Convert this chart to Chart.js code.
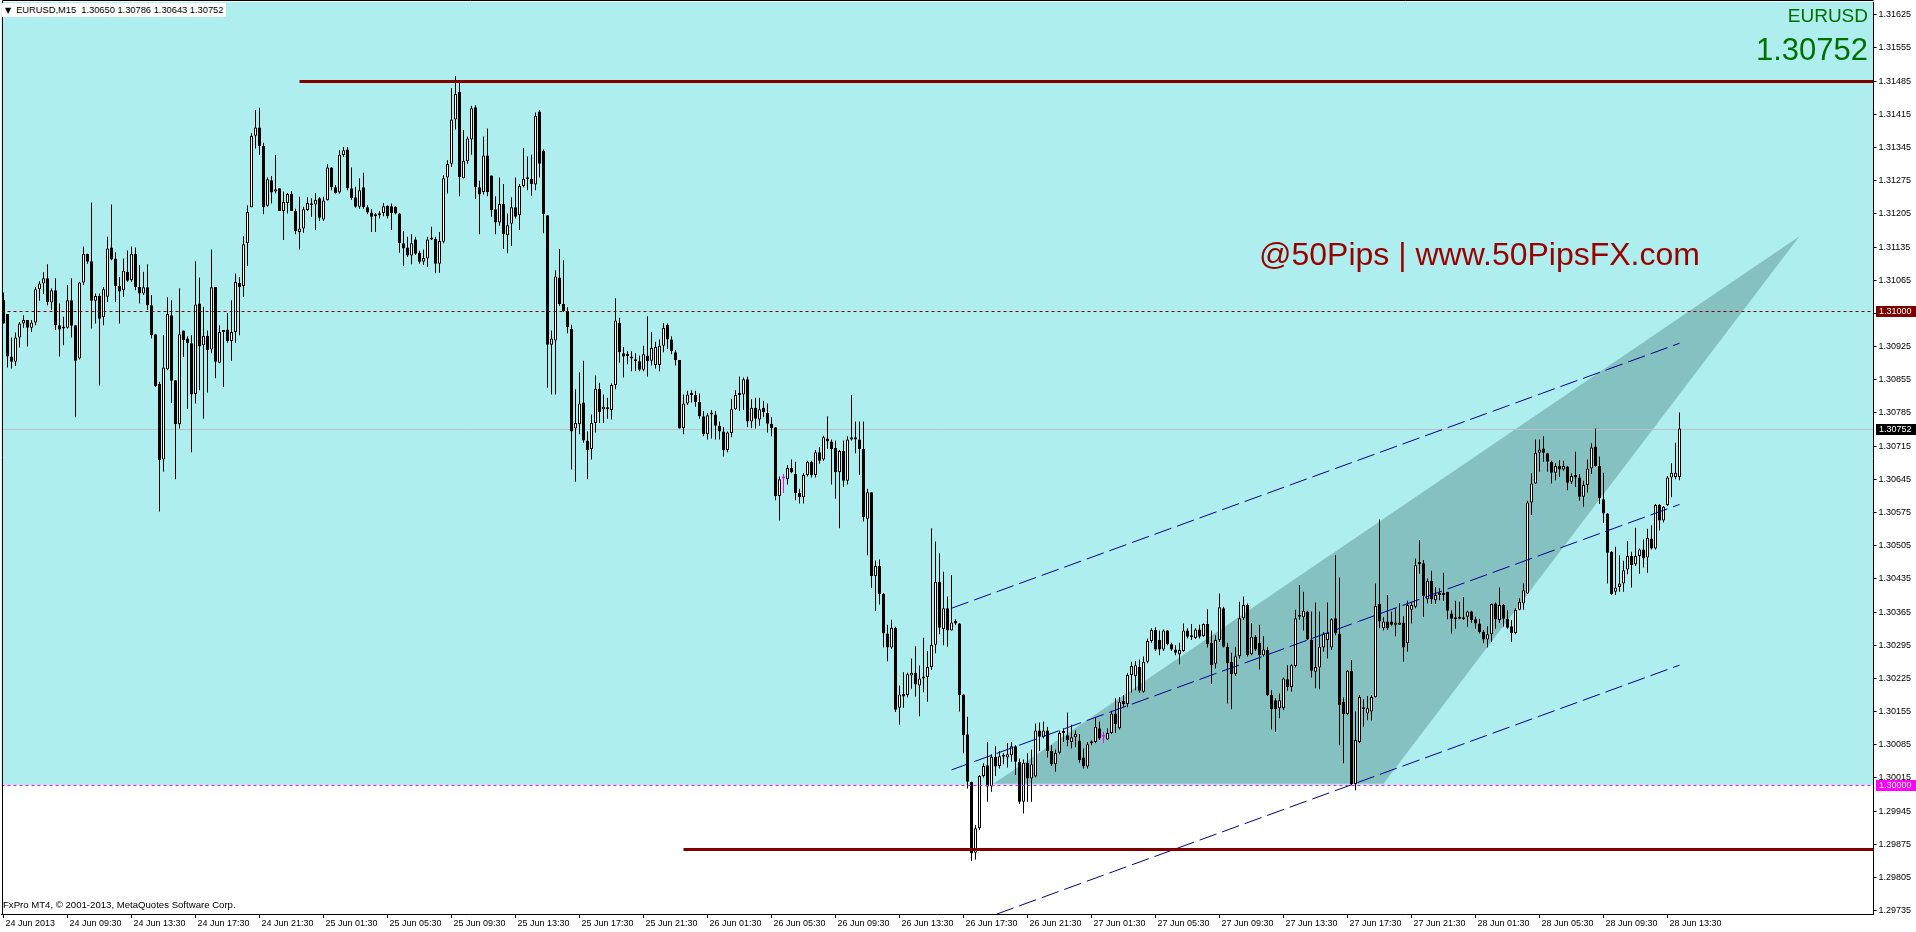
<!DOCTYPE html>
<html>
<head>
<meta charset="utf-8">
<title>EURUSD,M15</title>
<script src="https://cdn.jsdelivr.net/npm/chart.js@4.4.1/dist/chart.umd.min.js"></script>
<style>
  html, body { margin: 0; padding: 0; background: #fff; }
  #wrap { position: relative; width: 1916px; height: 932px; overflow: hidden; }
  #chart { position: absolute; left: 0; top: 0; }
  .txt { position: absolute; white-space: pre; font-family: 'Liberation Sans', Arial, sans-serif; z-index: 2; }
  #header { left: 2px; top: 3px; height: 14px; line-height: 14px; padding: 0 3px 0 3px; background: #fff; font-size: 9.3px; color: #000; }
  #header .arrow { font-family: 'DejaVu Sans', sans-serif; font-size: 8px; margin-right: 5px; }
  #footer { left: 3px; top: 899px; font-size: 9.6px; line-height: 12px; color: #000; }
  #symbol { right: 48px; top: 6px; font-size: 19px; line-height: 19px; color: #007000; }
  #bigPrice { right: 48px; top: 35px; font-size: 31px; line-height: 30px; color: #007000; }
  #brand { left: 1259px; top: 238px; font-size: 32px; line-height: 32px; color: #990000; }
</style>
</head>
<body>
<div id="wrap">
  <canvas id="chart" width="1916" height="932"></canvas>
  <div class="txt" id="header"><span class="arrow">▼</span>EURUSD,M15  1.30650 1.30786 1.30643 1.30752</div>
  <div class="txt" id="symbol">EURUSD</div>
  <div class="txt" id="bigPrice">1.30752</div>
  <div class="txt" id="brand">@50Pips | www.50PipsFX.com</div>
  <div class="txt" id="footer">FxPro MT4, © 2001-2013, MetaQuotes Software Corp.</div>
</div>
<script>
'use strict';

/* #################### candles (M15) #################### */
let opens = [
  1.31024, 1.30994, 1.30904, 1.30893, 1.30944, 1.30974, 1.30981, 1.30965, 1.30976, 1.31046,
  1.31058, 1.31069, 1.31018, 1.31044, 1.30970, 1.30963, 1.30965, 1.31023, 1.30970, 1.30900,
  1.31060, 1.31121, 1.31105, 1.31022, 1.31032, 1.30987, 1.31030, 1.31134, 1.31111, 1.31053,
  1.31044, 1.31083, 1.31065, 1.31121, 1.31051, 1.31037, 1.31050, 1.31012, 1.30951, 1.30846,
  1.30687, 1.30877, 1.30991, 1.30854, 1.30761, 1.30959, 1.30942, 1.30932, 1.30825, 1.31016,
  1.30928, 1.30948, 1.30919, 1.31051, 1.30891, 1.30958, 1.30961, 1.30937, 1.30956, 1.31059,
  1.31053, 1.31143, 1.31219, 1.31370, 1.31387, 1.31348, 1.31222, 1.31276, 1.31252, 1.31259,
  1.31211, 1.31228, 1.31247, 1.31211, 1.31167, 1.31174, 1.31213, 1.31227, 1.31225, 1.31238,
  1.31193, 1.31234, 1.31303, 1.31261, 1.31250, 1.31329, 1.31341, 1.31259, 1.31240, 1.31220,
  1.31261, 1.31219, 1.31208, 1.31202, 1.31202, 1.31207, 1.31222, 1.31221, 1.31220, 1.31206,
  1.31143, 1.31134, 1.31117, 1.31151, 1.31123, 1.31104, 1.31111, 1.31152, 1.31152, 1.31100,
  1.31146, 1.31282, 1.31311, 1.31404, 1.31462, 1.31280, 1.31316, 1.31362, 1.31430, 1.31261,
  1.31251, 1.31328, 1.31286, 1.31215, 1.31187, 1.31226, 1.31160, 1.31184, 1.31219, 1.31202,
  1.31264, 1.31279, 1.31279, 1.31267, 1.31421, 1.31338, 1.31202, 1.30929, 1.30938, 1.31071,
  1.31015, 1.31000, 1.30962, 1.30752, 1.30761, 1.30807, 1.30727, 1.30709, 1.30764, 1.30836,
  1.30793, 1.30793, 1.30791, 1.30844, 1.30975, 1.30911, 1.30906, 1.30904, 1.30897, 1.30894,
  1.30876, 1.30906, 1.30895, 1.30886, 1.30886, 1.30927, 1.30971, 1.30940, 1.30913, 1.30897,
  1.30753, 1.30805, 1.30823, 1.30823, 1.30808, 1.30778, 1.30740, 1.30782, 1.30782, 1.30758,
  1.30746, 1.30707, 1.30743, 1.30793, 1.30823, 1.30824, 1.30856, 1.30767, 1.30796, 1.30771,
  1.30796, 1.30785, 1.30762, 1.30755, 1.30610, 1.30647, 1.30645, 1.30669, 1.30656, 1.30616,
  1.30607, 1.30654, 1.30682, 1.30654, 1.30702, 1.30687, 1.30731, 1.30725, 1.30711, 1.30660,
  1.30705, 1.30642, 1.30729, 1.30734, 1.30729, 1.30709, 1.30562, 1.30618, 1.30441, 1.30462,
  1.30403, 1.30320, 1.30290, 1.30332, 1.30163, 1.30192, 1.30190, 1.30231, 1.30237, 1.30210,
  1.30225, 1.30228, 1.30249, 1.30296, 1.30429, 1.30329, 1.30373, 1.30326, 1.30346, 1.30341,
  1.30191, 1.30107, 1.30007, 1.29857, 1.29909, 1.30019, 1.30042, 1.29997, 1.30060, 1.30040,
  1.30060, 1.30058, 1.30063, 1.30082, 1.30049, 1.29965, 1.30047, 1.30014, 1.30018, 1.30115,
  1.30102, 1.30115, 1.30072, 1.30044, 1.30068, 1.30110, 1.30105, 1.30091, 1.30101, 1.30094,
  1.30058, 1.30039, 1.30091, 1.30091, 1.30120, 1.30102, 1.30096, 1.30110, 1.30151, 1.30120,
  1.30178, 1.30171, 1.30232, 1.30230, 1.30249, 1.30197, 1.30260, 1.30304, 1.30327, 1.30306,
  1.30286, 1.30326, 1.30297, 1.30286, 1.30276, 1.30283, 1.30326, 1.30313, 1.30310, 1.30328,
  1.30314, 1.30340, 1.30300, 1.30256, 1.30306, 1.30373, 1.30292, 1.30260, 1.30234, 1.30272,
  1.30352, 1.30380, 1.30276, 1.30313, 1.30300, 1.30274, 1.30285, 1.30190, 1.30179, 1.30162,
  1.30162, 1.30223, 1.30207, 1.30251, 1.30355, 1.30354, 1.30366, 1.30306, 1.30239, 1.30248,
  1.30290, 1.30306, 1.30290, 1.30352, 1.30320, 1.30176, 1.30150, 1.30241, 1.30002, 1.30091,
  1.30160, 1.30151, 1.30155, 1.30186, 1.30382, 1.30331, 1.30345, 1.30345, 1.30338, 1.30338,
  1.30343, 1.30299, 1.30370, 1.30376, 1.30471, 1.30468, 1.30392, 1.30431, 1.30390, 1.30404,
  1.30403, 1.30408, 1.30362, 1.30354, 1.30351, 1.30350, 1.30355, 1.30366, 1.30350, 1.30341,
  1.30323, 1.30307, 1.30318, 1.30383, 1.30348, 1.30380, 1.30351, 1.30335, 1.30321, 1.30370,
  1.30383, 1.30404, 1.30596, 1.30636, 1.30701, 1.30710, 1.30700, 1.30682, 1.30659, 1.30673,
  1.30666, 1.30672, 1.30640, 1.30654, 1.30649, 1.30608, 1.30633, 1.30668, 1.30714, 1.30673,
  1.30603, 1.30573, 1.30492, 1.30408, 1.30418, 1.30425, 1.30455, 1.30483, 1.30466, 1.30483,
  1.30497, 1.30480, 1.30520, 1.30499, 1.30591, 1.30558, 1.30591, 1.30649, 1.30650, 1.30650
];
let highs = [
  1.31039, 1.30994, 1.30944, 1.30955, 1.30977, 1.30991, 1.30981, 1.30981, 1.31051, 1.31063,
  1.31082, 1.31099, 1.31048, 1.31069, 1.31016, 1.30988, 1.31055, 1.31069, 1.30970, 1.31062,
  1.31136, 1.31121, 1.31229, 1.31037, 1.31037, 1.31051, 1.31157, 1.31225, 1.31124, 1.31072,
  1.31111, 1.31128, 1.31136, 1.31134, 1.31097, 1.31083, 1.31099, 1.31034, 1.30951, 1.30851,
  1.30949, 1.31029, 1.31023, 1.30854, 1.31048, 1.30959, 1.30947, 1.30949, 1.31105, 1.31071,
  1.31009, 1.30959, 1.31130, 1.31051, 1.30970, 1.30959, 1.30996, 1.31023, 1.31079, 1.31072,
  1.31158, 1.31223, 1.31375, 1.31424, 1.31429, 1.31355, 1.31282, 1.31285, 1.31329, 1.31259,
  1.31252, 1.31249, 1.31253, 1.31216, 1.31241, 1.31220, 1.31240, 1.31238, 1.31249, 1.31240,
  1.31241, 1.31310, 1.31304, 1.31266, 1.31339, 1.31346, 1.31346, 1.31303, 1.31262, 1.31280,
  1.31292, 1.31223, 1.31215, 1.31207, 1.31211, 1.31228, 1.31223, 1.31227, 1.31221, 1.31207,
  1.31169, 1.31157, 1.31162, 1.31157, 1.31127, 1.31130, 1.31157, 1.31178, 1.31157, 1.31167,
  1.31287, 1.31318, 1.31470, 1.31496, 1.31485, 1.31382, 1.31368, 1.31433, 1.31434, 1.31275,
  1.31368, 1.31385, 1.31286, 1.31242, 1.31282, 1.31268, 1.31206, 1.31240, 1.31282, 1.31268,
  1.31344, 1.31326, 1.31330, 1.31419, 1.31424, 1.31341, 1.31202, 1.30959, 1.31086, 1.31131,
  1.31107, 1.31008, 1.30971, 1.30835, 1.30871, 1.30895, 1.30746, 1.30782, 1.30864, 1.30849,
  1.30824, 1.30817, 1.30847, 1.31027, 1.30986, 1.30924, 1.30915, 1.30915, 1.30911, 1.30906,
  1.30927, 1.30989, 1.30956, 1.30935, 1.30940, 1.30975, 1.30974, 1.30947, 1.30918, 1.30897,
  1.30824, 1.30832, 1.30833, 1.30832, 1.30826, 1.30789, 1.30785, 1.30791, 1.30789, 1.30767,
  1.30755, 1.30746, 1.30815, 1.30833, 1.30862, 1.30860, 1.30862, 1.30814, 1.30817, 1.30817,
  1.30811, 1.30805, 1.30776, 1.30755, 1.30651, 1.30656, 1.30675, 1.30687, 1.30682, 1.30625,
  1.30658, 1.30684, 1.30684, 1.30707, 1.30713, 1.30737, 1.30778, 1.30729, 1.30727, 1.30707,
  1.30727, 1.30736, 1.30823, 1.30767, 1.30767, 1.30767, 1.30625, 1.30618, 1.30474, 1.30476,
  1.30405, 1.30338, 1.30349, 1.30334, 1.30210, 1.30238, 1.30237, 1.30267, 1.30293, 1.30252,
  1.30311, 1.30283, 1.30542, 1.30514, 1.30489, 1.30450, 1.30398, 1.30443, 1.30350, 1.30342,
  1.30191, 1.30144, 1.30007, 1.29916, 1.30021, 1.30046, 1.30091, 1.30065, 1.30082, 1.30072,
  1.30067, 1.30089, 1.30091, 1.30084, 1.30056, 1.30054, 1.30067, 1.30075, 1.30130, 1.30132,
  1.30134, 1.30123, 1.30084, 1.30075, 1.30115, 1.30120, 1.30153, 1.30127, 1.30115, 1.30108,
  1.30077, 1.30091, 1.30094, 1.30143, 1.30134, 1.30112, 1.30120, 1.30157, 1.30183, 1.30186,
  1.30190, 1.30236, 1.30260, 1.30262, 1.30265, 1.30271, 1.30309, 1.30331, 1.30333, 1.30326,
  1.30328, 1.30327, 1.30300, 1.30295, 1.30300, 1.30341, 1.30331, 1.30340, 1.30331, 1.30338,
  1.30341, 1.30371, 1.30326, 1.30316, 1.30404, 1.30376, 1.30300, 1.30279, 1.30292, 1.30387,
  1.30398, 1.30383, 1.30342, 1.30316, 1.30338, 1.30314, 1.30292, 1.30200, 1.30183, 1.30193,
  1.30227, 1.30253, 1.30255, 1.30370, 1.30422, 1.30408, 1.30368, 1.30366, 1.30385, 1.30366,
  1.30323, 1.30385, 1.30352, 1.30485, 1.30438, 1.30185, 1.30243, 1.30264, 1.30155, 1.30190,
  1.30181, 1.30188, 1.30190, 1.30425, 1.30560, 1.30354, 1.30401, 1.30366, 1.30373, 1.30384,
  1.30356, 1.30389, 1.30387, 1.30478, 1.30517, 1.30475, 1.30436, 1.30452, 1.30418, 1.30415,
  1.30448, 1.30408, 1.30369, 1.30389, 1.30387, 1.30397, 1.30368, 1.30368, 1.30355, 1.30351,
  1.30327, 1.30335, 1.30383, 1.30385, 1.30417, 1.30382, 1.30369, 1.30348, 1.30373, 1.30394,
  1.30425, 1.30600, 1.30658, 1.30729, 1.30729, 1.30736, 1.30701, 1.30684, 1.30679, 1.30686,
  1.30684, 1.30673, 1.30658, 1.30703, 1.30656, 1.30642, 1.30687, 1.30721, 1.30752, 1.30693,
  1.30659, 1.30574, 1.30494, 1.30503, 1.30485, 1.30473, 1.30515, 1.30492, 1.30543, 1.30499,
  1.30518, 1.30541, 1.30548, 1.30593, 1.30593, 1.30589, 1.30652, 1.30679, 1.30722, 1.30786
];
let lows = [
  1.30974, 1.30881, 1.30879, 1.30884, 1.30923, 1.30965, 1.30925, 1.30956, 1.30970, 1.31022,
  1.31036, 1.31012, 1.31002, 1.30960, 1.30904, 1.30928, 1.30963, 1.30944, 1.30776, 1.30898,
  1.31055, 1.31100, 1.30963, 1.30974, 1.30843, 1.30970, 1.31019, 1.31107, 1.31019, 1.30974,
  1.31030, 1.31062, 1.31062, 1.31044, 1.31016, 1.31034, 1.31002, 1.30942, 1.30840, 1.30577,
  1.30661, 1.30875, 1.30806, 1.30645, 1.30752, 1.30903, 1.30794, 1.30702, 1.30805, 1.30833,
  1.30773, 1.30828, 1.30911, 1.30858, 1.30890, 1.30840, 1.30933, 1.30895, 1.30933, 1.30949,
  1.31030, 1.31095, 1.31219, 1.31343, 1.31329, 1.31204, 1.31220, 1.31227, 1.31248, 1.31211,
  1.31150, 1.31206, 1.31211, 1.31162, 1.31130, 1.31165, 1.31211, 1.31199, 1.31171, 1.31190,
  1.31190, 1.31233, 1.31255, 1.31248, 1.31248, 1.31325, 1.31255, 1.31235, 1.31218, 1.31216,
  1.31216, 1.31204, 1.31167, 1.31167, 1.31195, 1.31200, 1.31195, 1.31171, 1.31204, 1.31123,
  1.31095, 1.31114, 1.31099, 1.31118, 1.31100, 1.31097, 1.31093, 1.31150, 1.31080, 1.31081,
  1.31143, 1.31248, 1.31304, 1.31383, 1.31242, 1.31280, 1.31311, 1.31330, 1.31237, 1.31162,
  1.31246, 1.31242, 1.31199, 1.31162, 1.31180, 1.31131, 1.31122, 1.31137, 1.31195, 1.31171,
  1.31261, 1.31255, 1.31243, 1.31255, 1.31282, 1.31164, 1.30838, 1.30824, 1.30824, 1.31011,
  1.30998, 1.30953, 1.30666, 1.30640, 1.30740, 1.30722, 1.30645, 1.30687, 1.30744, 1.30764,
  1.30764, 1.30773, 1.30771, 1.30835, 1.30891, 1.30860, 1.30888, 1.30873, 1.30873, 1.30873,
  1.30873, 1.30862, 1.30885, 1.30879, 1.30873, 1.30913, 1.30920, 1.30909, 1.30885, 1.30752,
  1.30740, 1.30802, 1.30807, 1.30798, 1.30773, 1.30736, 1.30729, 1.30731, 1.30729, 1.30729,
  1.30693, 1.30702, 1.30734, 1.30791, 1.30789, 1.30791, 1.30755, 1.30753, 1.30752, 1.30758,
  1.30776, 1.30744, 1.30736, 1.30601, 1.30558, 1.30616, 1.30634, 1.30658, 1.30601, 1.30594,
  1.30594, 1.30651, 1.30649, 1.30649, 1.30678, 1.30684, 1.30709, 1.30634, 1.30604, 1.30542,
  1.30629, 1.30634, 1.30727, 1.30700, 1.30654, 1.30556, 1.30485, 1.30416, 1.30367, 1.30381,
  1.30290, 1.30261, 1.30287, 1.30154, 1.30127, 1.30163, 1.30185, 1.30203, 1.30187, 1.30145,
  1.30196, 1.30176, 1.30243, 1.30278, 1.30318, 1.30295, 1.30292, 1.30326, 1.30337, 1.30155,
  1.30067, 1.29993, 1.29840, 1.29843, 1.29905, 1.30016, 1.29965, 1.29986, 1.30019, 1.30035,
  1.30044, 1.30037, 1.30049, 1.30021, 1.29960, 1.29940, 1.29965, 1.29965, 1.30016, 1.30072,
  1.30098, 1.30058, 1.30040, 1.30028, 1.30065, 1.30091, 1.30082, 1.30077, 1.30080, 1.30047,
  1.30035, 1.30035, 1.30084, 1.30089, 1.30095, 1.30089, 1.30095, 1.30108, 1.30110, 1.30117,
  1.30165, 1.30164, 1.30195, 1.30200, 1.30195, 1.30195, 1.30257, 1.30300, 1.30283, 1.30274,
  1.30283, 1.30295, 1.30283, 1.30274, 1.30255, 1.30281, 1.30309, 1.30306, 1.30308, 1.30309,
  1.30313, 1.30290, 1.30213, 1.30246, 1.30302, 1.30290, 1.30172, 1.30160, 1.30230, 1.30267,
  1.30348, 1.30271, 1.30274, 1.30283, 1.30244, 1.30271, 1.30188, 1.30117, 1.30112, 1.30141,
  1.30158, 1.30199, 1.30197, 1.30248, 1.30349, 1.30326, 1.30306, 1.30227, 1.30204, 1.30202,
  1.30281, 1.30267, 1.30285, 1.30316, 1.30084, 1.30046, 1.30148, 1.30000, 1.29989, 1.30089,
  1.30123, 1.30137, 1.30136, 1.30185, 1.30331, 1.30326, 1.30327, 1.30336, 1.30314, 1.30338,
  1.30260, 1.30281, 1.30341, 1.30373, 1.30446, 1.30355, 1.30383, 1.30382, 1.30382, 1.30390,
  1.30389, 1.30350, 1.30320, 1.30330, 1.30350, 1.30348, 1.30334, 1.30342, 1.30330, 1.30320,
  1.30299, 1.30290, 1.30302, 1.30330, 1.30342, 1.30334, 1.30330, 1.30302, 1.30318, 1.30369,
  1.30370, 1.30403, 1.30570, 1.30635, 1.30661, 1.30682, 1.30661, 1.30636, 1.30643, 1.30650,
  1.30663, 1.30622, 1.30635, 1.30629, 1.30600, 1.30587, 1.30617, 1.30656, 1.30672, 1.30593,
  1.30553, 1.30425, 1.30401, 1.30401, 1.30408, 1.30408, 1.30445, 1.30417, 1.30462, 1.30446,
  1.30459, 1.30448, 1.30497, 1.30497, 1.30537, 1.30554, 1.30589, 1.30607, 1.30645, 1.30643
];
let closes = [
  1.30974, 1.30904, 1.30893, 1.30944, 1.30974, 1.30981, 1.30965, 1.30976, 1.31046, 1.31058,
  1.31069, 1.31019, 1.31044, 1.30970, 1.30961, 1.30967, 1.31023, 1.30969, 1.30895, 1.31060,
  1.31121, 1.31104, 1.31022, 1.31032, 1.30984, 1.31046, 1.31132, 1.31109, 1.31053, 1.31041,
  1.31085, 1.31064, 1.31121, 1.31051, 1.31037, 1.31050, 1.31012, 1.30949, 1.30842, 1.30686,
  1.30881, 1.30994, 1.30853, 1.30761, 1.30951, 1.30939, 1.30932, 1.30824, 1.31014, 1.30925,
  1.30948, 1.30918, 1.31050, 1.30893, 1.30956, 1.30956, 1.30937, 1.30956, 1.31062, 1.31051,
  1.31141, 1.31209, 1.31370, 1.31387, 1.31348, 1.31219, 1.31278, 1.31250, 1.31257, 1.31211,
  1.31230, 1.31247, 1.31211, 1.31169, 1.31174, 1.31215, 1.31228, 1.31223, 1.31235, 1.31197,
  1.31233, 1.31303, 1.31261, 1.31249, 1.31330, 1.31339, 1.31259, 1.31238, 1.31220, 1.31255,
  1.31219, 1.31208, 1.31199, 1.31200, 1.31206, 1.31221, 1.31200, 1.31207, 1.31206, 1.31143,
  1.31132, 1.31117, 1.31143, 1.31121, 1.31104, 1.31112, 1.31151, 1.31151, 1.31100, 1.31148,
  1.31280, 1.31310, 1.31404, 1.31458, 1.31283, 1.31317, 1.31364, 1.31428, 1.31261, 1.31246,
  1.31328, 1.31251, 1.31213, 1.31187, 1.31226, 1.31162, 1.31181, 1.31219, 1.31199, 1.31264,
  1.31279, 1.31278, 1.31268, 1.31412, 1.31311, 1.31204, 1.30929, 1.30942, 1.31073, 1.31015,
  1.31000, 1.30966, 1.30746, 1.30764, 1.30805, 1.30727, 1.30707, 1.30764, 1.30836, 1.30787,
  1.30798, 1.30794, 1.30844, 1.30980, 1.30913, 1.30904, 1.30905, 1.30900, 1.30894, 1.30876,
  1.30909, 1.30894, 1.30922, 1.30924, 1.30927, 1.30965, 1.30940, 1.30915, 1.30897, 1.30752,
  1.30805, 1.30824, 1.30824, 1.30808, 1.30778, 1.30740, 1.30780, 1.30785, 1.30758, 1.30746,
  1.30707, 1.30744, 1.30793, 1.30823, 1.30824, 1.30856, 1.30767, 1.30796, 1.30773, 1.30793,
  1.30787, 1.30762, 1.30753, 1.30610, 1.30645, 1.30647, 1.30669, 1.30660, 1.30616, 1.30607,
  1.30654, 1.30682, 1.30654, 1.30702, 1.30684, 1.30734, 1.30725, 1.30709, 1.30660, 1.30705,
  1.30642, 1.30729, 1.30734, 1.30729, 1.30709, 1.30565, 1.30618, 1.30441, 1.30462, 1.30403,
  1.30320, 1.30290, 1.30332, 1.30159, 1.30191, 1.30187, 1.30234, 1.30237, 1.30212, 1.30225,
  1.30228, 1.30249, 1.30296, 1.30429, 1.30332, 1.30373, 1.30326, 1.30343, 1.30341, 1.30190,
  1.30105, 1.30007, 1.29856, 1.29909, 1.30019, 1.30040, 1.29997, 1.30060, 1.30039, 1.30061,
  1.30063, 1.30065, 1.30082, 1.30049, 1.29965, 1.30047, 1.30014, 1.30044, 1.30115, 1.30102,
  1.30115, 1.30072, 1.30044, 1.30068, 1.30110, 1.30112, 1.30095, 1.30101, 1.30108, 1.30053,
  1.30039, 1.30086, 1.30088, 1.30123, 1.30098, 1.30102, 1.30110, 1.30151, 1.30129, 1.30176,
  1.30171, 1.30232, 1.30251, 1.30253, 1.30199, 1.30260, 1.30304, 1.30327, 1.30286, 1.30286,
  1.30326, 1.30297, 1.30286, 1.30279, 1.30285, 1.30326, 1.30313, 1.30312, 1.30328, 1.30313,
  1.30340, 1.30297, 1.30253, 1.30306, 1.30375, 1.30292, 1.30257, 1.30234, 1.30272, 1.30352,
  1.30380, 1.30274, 1.30313, 1.30286, 1.30274, 1.30286, 1.30190, 1.30160, 1.30160, 1.30179,
  1.30225, 1.30207, 1.30253, 1.30352, 1.30359, 1.30368, 1.30307, 1.30241, 1.30249, 1.30292,
  1.30320, 1.30321, 1.30350, 1.30320, 1.30169, 1.30150, 1.30241, 1.30002, 1.30095, 1.30186,
  1.30162, 1.30162, 1.30186, 1.30378, 1.30345, 1.30345, 1.30331, 1.30338, 1.30343, 1.30343,
  1.30290, 1.30380, 1.30380, 1.30464, 1.30466, 1.30399, 1.30431, 1.30392, 1.30401, 1.30401,
  1.30401, 1.30368, 1.30351, 1.30350, 1.30354, 1.30354, 1.30366, 1.30348, 1.30341, 1.30323,
  1.30307, 1.30318, 1.30382, 1.30350, 1.30380, 1.30351, 1.30332, 1.30321, 1.30370, 1.30387,
  1.30411, 1.30596, 1.30636, 1.30701, 1.30708, 1.30701, 1.30682, 1.30659, 1.30673, 1.30666,
  1.30673, 1.30638, 1.30652, 1.30649, 1.30608, 1.30633, 1.30668, 1.30712, 1.30673, 1.30605,
  1.30573, 1.30490, 1.30403, 1.30417, 1.30425, 1.30453, 1.30483, 1.30464, 1.30483, 1.30497,
  1.30478, 1.30522, 1.30499, 1.30591, 1.30558, 1.30587, 1.30649, 1.30659, 1.30659, 1.30752
];

/* #################### axes #################### */
let timeLabels = ['24 Jun 2013', '24 Jun 09:30', '24 Jun 13:30', '24 Jun 17:30', '24 Jun 21:30',
  '25 Jun 01:30', '25 Jun 05:30', '25 Jun 09:30', '25 Jun 13:30', '25 Jun 17:30', '25 Jun 21:30',
  '26 Jun 01:30', '26 Jun 05:30', '26 Jun 09:30', '26 Jun 13:30', '26 Jun 17:30', '26 Jun 21:30',
  '27 Jun 01:30', '27 Jun 05:30', '27 Jun 09:30', '27 Jun 13:30', '27 Jun 17:30', '27 Jun 21:30',
  '28 Jun 01:30', '28 Jun 05:30', '28 Jun 09:30', '28 Jun 13:30'];
let barsPerLabel = 16;   //  one time label every 4 hours
let emptyBarsRight = 48; //  chart shift space after the last bar

let priceTicks = [1.31625, 1.31555, 1.31485, 1.31415, 1.31345, 1.31275, 1.31205, 1.31135, 1.31065,
  1.30995, 1.30925, 1.30855, 1.30785, 1.30715, 1.30645, 1.30575, 1.30505, 1.30435, 1.30365, 1.30295,
  1.30225, 1.30155, 1.30085, 1.30015, 1.29945, 1.29875, 1.29805, 1.29735];
let priceMin = 1.29728;
let priceMax = 1.31652;

/* #################### drawn objects #################### */
let zoneFloor = 1.30000;  //  cyan box from the top of the window down to this price
let triangleBars = [247.5, 449, 345];
let trianglePrices = [1.30003, 1.31158, 1.30003];
let channelBars = [237, 419];
let channelUpper = [1.30373, 1.30932];
let channelMiddle = [1.30032, 1.30592];
let channelLower = [1.29693, 1.30253];
let bidPrice = 1.30752;

let levelPrices = [1.31485, 1.29866, 1.31000, 1.30000];
let levelStartBars = [74, 170, 0, 0];
let levelColors = ['#800000', '#800000', '#800000', '#ff00ff'];
let levelWidths = [3, 3, 1, 1];

let tagPrices = [1.31000, 1.30752, 1.30000];
let tagColors = ['#800000', '#000000', '#ff00ff'];

/* #################### helpers #################### */
let slots = [];
for (let idx = 0; idx < opens.length + emptyBarsRight; idx++) {
  slots.push(idx);
}

let bodies = [];
let wicks = [];
let bodyFill = [];
let bodyBorder = [];
for (let idx = 0; idx < opens.length; idx++) {
  bodies.push([opens[idx], closes[idx]]);
  wicks.push([lows[idx], highs[idx]]);
  if (closes[idx] > opens[idx]) {
    bodyFill.push('#ffffff');
    bodyBorder.push('#000000');
  } else if (closes[idx] < opens[idx]) {
    bodyFill.push('#000000');
    bodyBorder.push('#000000');
  } else {
    //  doji bars are drawn in the line colour
    bodyFill.push('#ff00ff');
    bodyBorder.push('#ff00ff');
  }
}

function channelLine(prices) {
  return [{x: channelBars[0], y: prices[0]}, {x: channelBars[1], y: prices[1]}];
}

//  background box, triangle, price lines and axis tags
const mt4Objects = {
  id: 'mt4Objects',
  beforeDraw(chart) {
    const {ctx, chartArea: area, scales: {x, y}} = chart;
    ctx.save();
    let yFloor = y.getPixelForValue(zoneFloor);
    ctx.fillStyle = '#afeeee';
    ctx.fillRect(area.left, area.top, area.right - area.left, yFloor - area.top);

    ctx.beginPath();
    for (let idx = 0; idx < triangleBars.length; idx++) {
      let px = x.getPixelForValue(triangleBars[idx]);
      let py = y.getPixelForValue(trianglePrices[idx]);
      if (idx === 0) {
        ctx.moveTo(px, py);
      } else {
        ctx.lineTo(px, py);
      }
    }
    ctx.closePath();
    ctx.fillStyle = '#85c1c1';
    ctx.fill();

    let yBid = Math.round(y.getPixelForValue(bidPrice)) + 0.5;
    ctx.strokeStyle = '#c0c0c0';
    ctx.lineWidth = 1;
    ctx.beginPath();
    ctx.moveTo(area.left, yBid);
    ctx.lineTo(area.right, yBid);
    ctx.stroke();
    ctx.restore();
  },
  afterDatasetsDraw(chart) {
    const {ctx, chartArea: area, scales: {x, y}} = chart;
    ctx.save();
    ctx.beginPath();
    ctx.rect(area.left, area.top, area.right - area.left, area.bottom - area.top);
    ctx.clip();
    for (let idx = 0; idx < levelPrices.length; idx++) {
      let width = levelWidths[idx];
      let py = Math.round(y.getPixelForValue(levelPrices[idx])) + (width % 2 ? 0.5 : 0);
      let startX = levelStartBars[idx] > 0 ? x.getPixelForValue(levelStartBars[idx]) : area.left;
      ctx.strokeStyle = levelColors[idx];
      ctx.lineWidth = width;
      ctx.setLineDash(width === 1 ? [3, 3] : []);
      ctx.beginPath();
      ctx.moveTo(startX, py);
      ctx.lineTo(area.right, py);
      ctx.stroke();
    }
    ctx.restore();
  },
  afterDraw(chart) {
    const {ctx, chartArea: area, scales: {y}} = chart;
    ctx.save();
    //  frame on the left and top of the window
    ctx.strokeStyle = '#000';
    ctx.lineWidth = 1;
    ctx.beginPath();
    ctx.moveTo(2.5, area.bottom);
    ctx.lineTo(2.5, 0.5);
    ctx.lineTo(area.right, 0.5);
    ctx.stroke();

    ctx.font = '9px "Liberation Sans", Arial, sans-serif';
    ctx.textBaseline = 'middle';
    ctx.textAlign = 'left';
    for (let idx = 0; idx < tagPrices.length; idx++) {
      let py = Math.round(y.getPixelForValue(tagPrices[idx]));
      ctx.fillStyle = tagColors[idx];
      ctx.fillRect(Math.round(area.right) + 2, py - 5, 40, 11);
      ctx.fillStyle = '#ffffff';
      ctx.fillText(tagPrices[idx].toFixed(5), Math.round(area.right) + 5, py + 0.5);
    }
    ctx.restore();
  }
};

/* #################### chart #################### */
Chart.defaults.font.family = '"Liberation Sans", Arial, sans-serif';

const config = {
  type: 'bar',
  data: {
    labels: slots,
    datasets: [
      {
        label: 'Channel upper',
        type: 'line',
        data: channelLine(channelUpper),
        borderColor: '#00008b',
        borderWidth: 1,
        borderDash: [18, 6],
        pointRadius: 0,
        fill: false,
        order: 0
      },
      {
        label: 'Channel middle',
        type: 'line',
        data: channelLine(channelMiddle),
        borderColor: '#00008b',
        borderWidth: 1,
        borderDash: [18, 6],
        pointRadius: 0,
        fill: false,
        order: 0
      },
      {
        label: 'Channel lower',
        type: 'line',
        data: channelLine(channelLower),
        borderColor: '#00008b',
        borderWidth: 1,
        borderDash: [18, 6],
        pointRadius: 0,
        fill: false,
        order: 0
      },
      {
        label: 'Body',
        data: bodies,
        backgroundColor: bodyFill,
        borderColor: bodyBorder,
        borderWidth: 1,
        borderSkipped: false,
        barThickness: 3,
        minBarLength: 2,
        inflateAmount: 0,
        grouped: false,
        order: 1
      },
      {
        label: 'Wick',
        data: wicks,
        backgroundColor: bodyBorder,
        borderWidth: 0,
        barThickness: 1,
        minBarLength: 1,
        inflateAmount: 0,
        grouped: false,
        order: 2
      }
    ]
  },
  options: {
    responsive: false,
    devicePixelRatio: 1,
    animation: false,
    events: [],
    layout: { padding: { left: 1.5, top: 2, right: 0, bottom: 0 } },
    plugins: {
      legend: { display: false },
      tooltip: { enabled: false }
    },
    scales: {
      x: {
        type: 'category',
        offset: true,
        grid: { drawOnChartArea: false, drawTicks: true, tickLength: 4, color: '#000', offset: false },
        border: { display: true, color: '#000', width: 1 },
        afterBuildTicks: (scale) => {
          scale.ticks = scale.ticks.filter((t) => t.value % barsPerLabel === 0 && t.value / barsPerLabel < timeLabels.length);
        },
        afterFit: (scale) => {
          scale.height = 18;
          scale.paddingLeft = 0;
          scale.paddingRight = 0;
        },
        ticks: {
          autoSkip: false,
          maxRotation: 0,
          minRotation: 0,
          align: 'start',
          labelOffset: 2,
          padding: 0,
          color: '#000',
          font: { size: 9 },
          callback: (value) => timeLabels[value / barsPerLabel]
        }
      },
      y: {
        type: 'linear',
        position: 'right',
        min: priceMin,
        max: priceMax,
        beginAtZero: false,
        grid: { drawOnChartArea: false, drawTicks: true, tickLength: 3, color: '#000' },
        border: { display: true, color: '#000', width: 1 },
        afterBuildTicks: (scale) => {
          scale.ticks = priceTicks.map((v) => ({ value: v }));
        },
        afterFit: (scale) => {
          scale.width = 42.5;
          scale.paddingTop = 0;
          scale.paddingBottom = 0;
        },
        ticks: {
          padding: 2,
          color: '#000',
          font: { size: 9 },
          callback: (value) => Number(value).toFixed(5)
        }
      }
    }
  },
  plugins: [mt4Objects]
};

const mt4Chart = new Chart(document.getElementById('chart'), config);
</script>
</body>
</html>
